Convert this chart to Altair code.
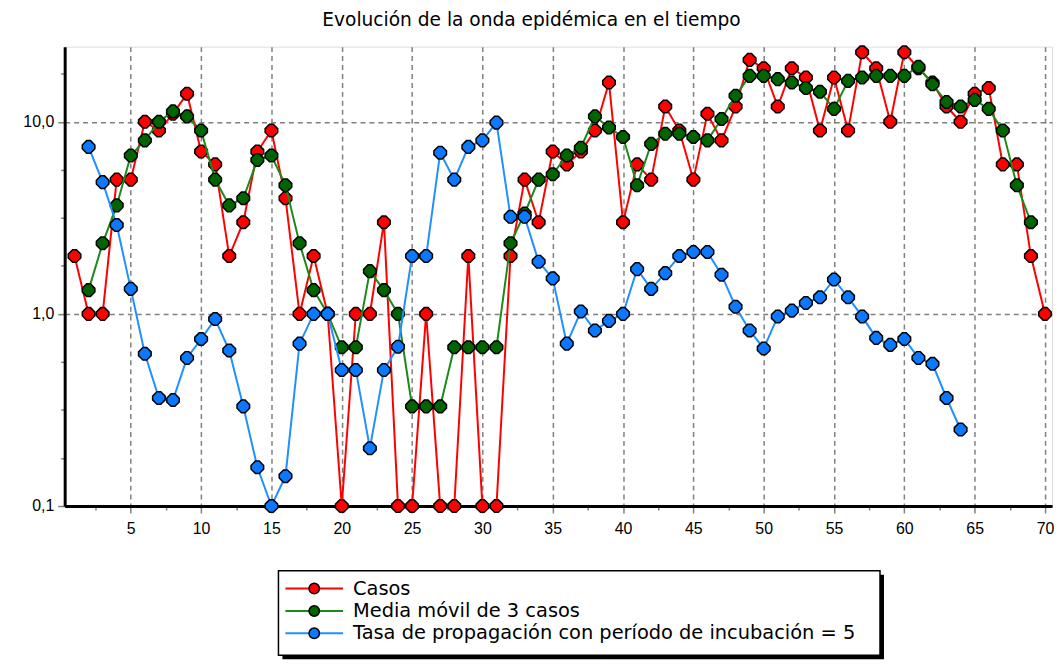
import altair as alt
import pandas as pd

# ---- data ----
dias = list(range(1, 71))
casos = [2, 1, 1, 5, 5, 10, 9, 11, 14, 7,
         6, 2, 3, 7, 9, 4, 1, 2, 1, 0.1,
         1, 1, 3, 0.1, 0.1, 1, 0.1, 0.1, 2, 0.1,
         0.1, 2, 5, 3, 7, 6, 7, 9, 16, 3,
         6, 5, 12, 9, 5, 11, 8, 12, 21, 19,
         12, 19, 17, 9, 17, 9, 23, 19, 10, 23,
         19, 16, 12, 10, 14, 15, 6, 6, 2, 1]

dias_media = list(range(2, 70))
media = [1.33, 2.33, 3.67, 6.67, 8.0, 10.0, 11.33, 10.67, 9.0,
         5.0, 3.67, 4.0, 6.33, 6.67, 4.67, 2.33, 1.33, 1.0, 0.67,
         0.67, 1.67, 1.33, 1.0, 0.33, 0.33, 0.33, 0.67, 0.67, 0.67,
         0.67, 2.33, 3.33, 5.0, 5.33, 6.67, 7.33, 10.67, 9.33, 8.33,
         4.67, 7.67, 8.67, 8.67, 8.33, 8.0, 10.33, 13.67, 17.33, 17.33,
         16.67, 16.0, 15.0, 14.33, 11.67, 16.33, 17.0, 17.33, 17.33, 17.33,
         19.33, 15.67, 12.67, 12.0, 13.0, 11.67, 9.0, 4.67, 3.0]

dias_tasa = list(range(2, 65))
tasa = [7.4, 4.85, 2.9, 1.35, 0.62, 0.365, 0.356, 0.59, 0.74,
        0.94, 0.645, 0.33, 0.159, 0.1, 0.143, 0.70, 1.0, 1.0, 0.51,
        0.51, 0.20, 0.51, 0.675, 2.0, 2.0, 6.9, 5.0, 7.4, 8.0,
        9.9, 3.2, 3.2, 1.87, 1.53, 0.70, 1.03, 0.82, 0.92, 1.0,
        1.71, 1.35, 1.63, 2.0, 2.1, 2.1, 1.6, 1.09, 0.82, 0.66,
        0.97, 1.04, 1.14, 1.22, 1.51, 1.22, 0.97, 0.75, 0.69, 0.74,
        0.59, 0.55, 0.365, 0.25]

series = ["Casos", "Media móvil de 3 casos",
          "Tasa de propagación con período de incubación = 5"]
line_colors = ["#ff0000", "#1a8a1a", "#1e90ff"]
fill_colors = ["#ff0000", "#006400", "#0a78ff"]

x_major = [5 * k for k in range(1, 15)]
x_ticks = [2.5 * k for k in range(1, 29)]
y_ticks = [0.1, 0.1778, 0.3162, 0.5623, 1, 1.778, 3.162, 5.623, 10, 17.78]

title = "Evolución de la onda epidémica en el tiempo"

# ---- chart ----
FONT = "Liberation Sans"
TFONT = "DejaVu Sans"
W, H = 993, 462
marker = "M-0.3,-1 L0.3,-1 L1,-0.3 L1,0.3 L0.3,1 L-0.3,1 L-1,0.3 L-1,-0.3 Z"

x_enc = alt.X("dia:Q",
              scale=alt.Scale(domain=[0.3, 70.5], nice=False, zero=False),
              axis=alt.Axis(values=x_ticks, title=None,
                            labelExpr="datum.value % 5 == 0 ? datum.label : ''",
                            grid=True,
                            gridOpacity={"condition": {"test": "datum.value % 5 == 0", "value": 1}, "value": 0},
                            tickSize={"condition": {"test": "datum.value % 5 == 0", "value": 7}, "value": 4},
                            labelPadding=8, labelFontSize=16, labelFont=FONT,
                            labelColor="#000", tickColor="#808080", tickWidth=1.5,
                            domainColor="#000", domainWidth=3,
                            gridColor="#808080", gridDash=[5, 4], gridWidth=1.5))

major_y = "abs(log(datum.value)/LN10 - round(log(datum.value)/LN10)) < 0.001"
y_enc = alt.Y("valor:Q",
              scale=alt.Scale(type="log", domain=[0.1, 24.6], nice=False),
              axis=alt.Axis(values=y_ticks, title=None,
                            labelExpr=f"{major_y} ? replace(format(datum.value, '.1f'), '.', ',') : ''",
                            grid=True,
                            gridOpacity={"condition": {"test": major_y, "value": 1}, "value": 0},
                            tickSize={"condition": {"test": major_y, "value": 7}, "value": 4},
                            labelPadding=4, labelFontSize=16, labelFont=FONT,
                            labelColor="#000", tickColor="#808080", tickWidth=1.5,
                            domainColor="#000", domainWidth=3,
                            gridColor="#808080", gridDash=[5, 4], gridWidth=1.5))

def serie(xs, ys, i):
    df = pd.DataFrame({"dia": xs, "valor": ys})
    base = alt.Chart(df)
    ln = base.mark_line(strokeWidth=2, color=line_colors[i]).encode(x=x_enc, y=y_enc)
    pt = base.mark_point(shape=marker, size=160, filled=True, fill=fill_colors[i],
                         stroke="#000", strokeWidth=1.5, opacity=1).encode(x=x_enc, y=y_enc)
    return [ln, pt]

main = alt.layer(*(serie(dias, casos, 0) + serie(dias_media, media, 1) + serie(dias_tasa, tasa, 2)))

# ---- legend (drawn as decoration below the plot) ----
leg = pd.DataFrame({"serie": series, "row": [0, 1, 2]})
one = pd.DataFrame({"a": [0]})
row_y = alt.Y("row:Q", scale=alt.Scale(domain=[0, 2], range=[545, 590]), axis=None)
col = alt.Color("serie:N", scale=alt.Scale(domain=series, range=line_colors), legend=None)
fil = alt.Fill("serie:N", scale=alt.Scale(domain=series, range=fill_colors), legend=None)

shadow = alt.Chart(one).mark_rect(fill="#000").encode(
    x=alt.value(219), x2=alt.value(824), y=alt.value(531), y2=alt.value(616))
box = alt.Chart(one).mark_rect(fill="#fff", stroke="#000", strokeWidth=1.5).encode(
    x=alt.value(215), x2=alt.value(820), y=alt.value(527), y2=alt.value(612))
leg_line = alt.Chart(leg).mark_rule(strokeWidth=2).encode(
    x=alt.value(222), x2=alt.value(280), y=row_y, color=col)
leg_pt = alt.Chart(leg).mark_point(shape="circle", size=110, filled=True, stroke="#000",
                                   strokeWidth=1.5, opacity=1).encode(
    x=alt.value(251), y=row_y, fill=fil)
leg_txt = alt.Chart(leg).mark_text(align="left", baseline="middle", fontSize=19.5,
                                   font=TFONT, color="#000").encode(
    x=alt.value(290), y=row_y, text="serie:N")
legend = alt.layer(shadow, box, leg_line, leg_pt, leg_txt)

chart = alt.layer(main, legend).resolve_scale(
    y="independent", color="independent", fill="independent"
).properties(
    width=W, height=H,
    title=alt.TitleParams(title, fontSize=18.7, font=TFONT, fontWeight="normal",
                          color="#000", anchor="middle", dx=-27, offset=13),
    autosize=alt.AutoSizeParams(type="none"),
    padding={"left": 57, "top": 37, "right": 3, "bottom": 155},
).configure_view(stroke="#333", strokeWidth=2).configure(background="#ffffff")

chart.save("out.html", embed_options={"renderer": "svg", "actions": False})
